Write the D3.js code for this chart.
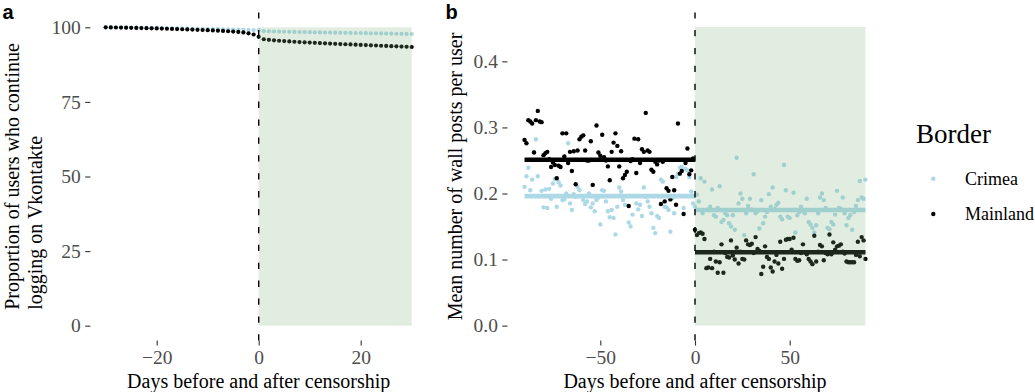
<!DOCTYPE html>
<html>
<head>
<meta charset="utf-8">
<script src="https://cdn.jsdelivr.net/npm/d3@7"></script>
<style>
  body { margin: 0; background: #fff; }
  text { font-family: "Liberation Serif", "Times New Roman", serif; }
</style>
</head>
<body>
<svg id="chart" width="1035" height="392"></svg>
<script>
// panel a: share of users still logging in, days -30..30
const daysA = d3.range(-30, 31);
const retainCrimea = [
    100.00, 99.98, 99.96, 99.94, 99.92, 99.90, 99.87, 99.85, 99.82, 99.80,
    99.77, 99.74, 99.71, 99.68, 99.65, 99.62, 99.59, 99.56, 99.52, 99.49,
    99.46, 99.42, 99.39, 99.35, 99.31, 99.27, 99.23, 99.19, 99.14, 99.09,
    99.00,
    98.70, 98.65, 98.60, 98.56, 98.52, 98.48, 98.45, 98.42, 98.39, 98.36,
    98.33, 98.30, 98.27, 98.24, 98.21, 98.18, 98.15, 98.12, 98.09, 98.06,
    98.03, 98.00, 97.97, 97.94, 97.91, 97.88, 97.85, 97.82, 97.79, 97.76
];
const retainMainland = [
    100.00, 99.97, 99.94, 99.90, 99.87, 99.83, 99.79, 99.75, 99.71, 99.67,
    99.62, 99.57, 99.52, 99.47, 99.42, 99.36, 99.30, 99.24, 99.17, 99.10,
    99.03, 98.95, 98.87, 98.78, 98.68, 98.57, 98.44, 98.28, 98.00, 97.60,
    96.80,
    96.00, 95.80, 95.65, 95.50, 95.38, 95.27, 95.17, 95.07, 94.98, 94.89,
    94.80, 94.72, 94.64, 94.56, 94.48, 94.40, 94.32, 94.25, 94.18, 94.11,
    94.04, 93.97, 93.90, 93.83, 93.76, 93.69, 93.62, 93.55, 93.48, 93.41
];

// panel b: mean wall posts per user, days -90..90
const daysB = d3.range(-90, 91);
const postsCrimea = [
    0.210, 0.226, 0.239, 0.205, 0.221, 0.263, 0.282, 0.226, 0.251, 0.204,
    0.179, 0.206, 0.178, 0.207, 0.192, 0.215, 0.222, 0.180, 0.217, 0.212,
    0.190, 0.191, 0.200, 0.276, 0.185, 0.175, 0.199, 0.195, 0.210, 0.205,
    0.196, 0.190, 0.184, 0.188, 0.200, 0.179, 0.185, 0.173, 0.190, 0.194,
    0.153, 0.205, 0.204, 0.188, 0.173, 0.164, 0.175, 0.163, 0.138, 0.180,
    0.209, 0.203, 0.190, 0.183, 0.196, 0.156, 0.150, 0.168, 0.196, 0.185,
    0.176, 0.183, 0.166, 0.209, 0.195, 0.188, 0.180, 0.170, 0.148, 0.140,
    0.166, 0.163, 0.221, 0.218, 0.180, 0.179, 0.175, 0.142, 0.193, 0.170,
    0.225, 0.230, 0.239, 0.240, 0.178, 0.237, 0.235, 0.225, 0.203, 0.185,
    // from day 0
    0.180, 0.198, 0.188, 0.223, 0.170, 0.218, 0.175, 0.176, 0.180, 0.206,
    0.167, 0.165, 0.178, 0.211, 0.157, 0.160, 0.170, 0.167, 0.155, 0.150,
    0.167, 0.145, 0.254, 0.185, 0.200, 0.192, 0.137, 0.170, 0.181, 0.192,
    0.176, 0.229, 0.170, 0.173, 0.147, 0.190, 0.155, 0.165, 0.172, 0.199,
    0.180, 0.209, 0.177, 0.183, 0.186, 0.165, 0.161, 0.243, 0.205, 0.165,
    0.163, 0.175, 0.201, 0.141, 0.167, 0.172, 0.180, 0.173, 0.170, 0.192,
    0.157, 0.153, 0.148, 0.141, 0.152, 0.170, 0.194, 0.200, 0.190, 0.178,
    0.148, 0.146, 0.157, 0.153, 0.168, 0.204, 0.178, 0.177, 0.194, 0.170,
    0.152, 0.163, 0.167, 0.145, 0.172, 0.181, 0.190, 0.219, 0.194, 0.192,
    0.221
];
const postsMainland = [
    0.281, 0.276, 0.311, 0.309, 0.306, 0.262, 0.311, 0.325, 0.309, 0.308,
    0.258, 0.261, 0.263, 0.252, 0.240, 0.247, 0.243, 0.223, 0.242, 0.240,
    0.291, 0.256, 0.291, 0.246, 0.263, 0.234, 0.264, 0.214, 0.265, 0.282,
    0.286, 0.288, 0.265, 0.250, 0.250, 0.279, 0.213, 0.196, 0.303, 0.262,
    0.257, 0.289, 0.255, 0.250, 0.241, 0.220, 0.263, 0.277, 0.291, 0.272,
    0.241, 0.264, 0.223, 0.228, 0.233, 0.181, 0.249, 0.252, 0.283, 0.231,
    0.282, 0.246, 0.267, 0.263, 0.322, 0.265, 0.263, 0.236, 0.233, 0.248,
    0.244, 0.250, 0.184, 0.248, 0.188, 0.208, 0.204, 0.191, 0.225, 0.205,
    0.183, 0.306, 0.230, 0.234, 0.169, 0.246, 0.268, 0.229, 0.235, 0.253,
    // from day 0
    0.145, 0.137, 0.140, 0.141, 0.139, 0.131, 0.087, 0.088, 0.101, 0.087,
    0.112, 0.097, 0.080, 0.096, 0.123, 0.080, 0.110, 0.104, 0.103, 0.129,
    0.106, 0.100, 0.118, 0.094, 0.112, 0.101, 0.100, 0.129, 0.123, 0.122,
    0.124, 0.110, 0.134, 0.116, 0.113, 0.078, 0.089, 0.120, 0.104, 0.101,
    0.088, 0.082, 0.097, 0.107, 0.094, 0.127, 0.086, 0.101, 0.130, 0.131,
    0.131, 0.115, 0.133, 0.101, 0.098, 0.099, 0.110, 0.123, 0.111, 0.108,
    0.101, 0.097, 0.093, 0.136, 0.097, 0.112, 0.122, 0.120, 0.099, 0.110,
    0.108, 0.138, 0.108, 0.126, 0.115, 0.120, 0.121, 0.123, 0.112, 0.109,
    0.097, 0.096, 0.096, 0.096, 0.096, 0.107, 0.127, 0.105, 0.134, 0.129,
    0.101
];
// period means (before / after censorship)
const meanCrimea = [0.196, 0.175];
const meanMainland = [0.251, 0.111];

const ticksAX = [-20, 0, 20];
const ticksAY = [0, 25, 50, 75, 100];
const ticksBX = [-50, 0, 50];
const ticksBY = [0, 0.1, 0.2, 0.3, 0.4];

const borders = ["Crimea", "Mainland"];
const colours = {Crimea: "#add8e6", Mainland: "#000000"};

const svg = d3.select("#chart");
const panelTop = 12.4, panelBottom = 340.6;

const drawPanel = (p) => {
    const x = d3.scaleLinear().domain(p.xDomain).range([p.left, p.right]);
    const y = d3.scaleLinear().domain(p.yDomain).range([panelBottom, panelTop]);
    const g = svg.append("g");

    // points, Crimea under Mainland
    p.series.forEach(s => {
        g.append("g").selectAll("circle")
            .data(s.values)
            .enter()
            .append("circle")
            .attr("cx", (d, i) => x(p.days[i]))
            .attr("cy", d => y(d))
            .attr("r", p.r)
            .attr("fill", colours[s.name]);
    });

    // before / after means
    if (p.means) {
        p.means.forEach(m => {
            [[p.days[0], 0], [0, p.days[p.days.length - 1]]].forEach((span, k) => {
                g.append("line")
                    .attr("x1", x(span[0])).attr("x2", x(span[1]))
                    .attr("y1", y(m.values[k])).attr("y2", y(m.values[k]))
                    .attr("stroke", colours[m.name])
                    .attr("stroke-width", 4.6);
            });
        });
    }

    // censorship period shading
    g.append("rect")
        .attr("x", x(0))
        .attr("width", x(p.days[p.days.length - 1]) - x(0))
        .attr("y", y(p.rectTop))
        .attr("height", y(0) - y(p.rectTop))
        .attr("fill", "rgb(123,176,123)")
        .attr("fill-opacity", 0.227);

    g.append("line")
        .attr("x1", x(0)).attr("x2", x(0))
        .attr("y1", panelBottom).attr("y2", panelTop)
        .attr("stroke", "#000")
        .attr("stroke-width", 1.4)
        .attr("stroke-dasharray", "6.3,11.6");

    // axes
    const xAxis = d3.axisBottom(x).tickValues(p.xTicks).tickSize(5).tickPadding(5)
        .tickFormat(d3.format("d"));
    const yAxis = d3.axisLeft(y).tickValues(p.yTicks).tickSize(5.2).tickPadding(4.4)
        .tickFormat(p.yFormat);

    [[xAxis, `translate(0,${panelBottom})`], [yAxis, `translate(${p.left},0)`]].forEach(([ax, tr]) => {
        const a = g.append("g").attr("transform", tr).call(ax)
            .attr("font-family", null)
            .attr("font-size", null);
        a.select(".domain").remove();
        a.selectAll(".tick line").attr("stroke", "#333333").attr("stroke-width", 1.1);
        a.selectAll(".tick text")
            .attr("fill", "#4d4d4d")
            .attr("font-family", '"Liberation Serif", serif')
            .attr("font-size", 19.5);
    });

    g.append("text")
        .attr("x", (p.left + p.right) / 2)
        .attr("y", 388)
        .attr("text-anchor", "middle")
        .attr("font-size", 20)
        .text("Days before and after censorship");

    const mid = (panelTop + panelBottom) / 2;
    if (p.yTitle.length === 1) {
        g.append("text")
            .attr("transform", `translate(${p.titleX[0]},${mid}) rotate(-90)`)
            .attr("text-anchor", "middle")
            .attr("font-size", 20)
            .text(p.yTitle[0]);
    } else {
        const first = g.append("text")
            .attr("font-size", 20)
            .text(p.yTitle[0]);
        const w = first.node().getComputedTextLength();
        first.attr("transform", `translate(${p.titleX[0]},${mid + w / 2}) rotate(-90)`);
        g.append("text")
            .attr("transform", `translate(${p.titleX[1]},${mid + w / 2}) rotate(-90)`)
            .attr("font-size", 20)
            .text(p.yTitle[1]);
    }

    g.append("text")
        .attr("x", p.labelX)
        .attr("y", 18.5)
        .style("font-family", '"Liberation Sans", Arial, sans-serif')
        .style("font-weight", "bold")
        .style("font-size", "20px")
        .text(p.label);
};

drawPanel({
    label: "a", labelX: 2.5,
    days: daysA,
    xDomain: [-33, 33], left: 90.4, right: 427,
    yDomain: [-5, 105], rectTop: 100,
    xTicks: ticksAX, yTicks: ticksAY, yFormat: d3.format("d"),
    r: 2.1,
    series: [{name: "Crimea", values: retainCrimea}, {name: "Mainland", values: retainMainland}],
    yTitle: ["Proportion of users who continue", "logging on Vkontakte"],
    titleX: [18.5, 41.5]
});

drawPanel({
    label: "b", labelX: 445.5,
    days: daysB,
    xDomain: [-99, 99], left: 507.5, right: 882.5,
    yDomain: [-0.0227, 0.4741], rectTop: 0.452,
    xTicks: ticksBX, yTicks: ticksBY, yFormat: d3.format(".1f"),
    r: 2.2,
    series: [{name: "Crimea", values: postsCrimea}, {name: "Mainland", values: postsMainland}],
    means: [{name: "Crimea", values: meanCrimea}, {name: "Mainland", values: meanMainland}],
    yTitle: ["Mean number of wall posts per user"],
    titleX: [462]
});

// legend
const legend = svg.append("g");
legend.append("text")
    .attr("x", 916).attr("y", 143)
    .attr("font-size", 27)
    .text("Border");
borders.forEach((b, i) => {
    const ky = 178.7 + i * 35.3;
    legend.append("circle")
        .attr("cx", 933.3).attr("cy", ky).attr("r", 2.2)
        .attr("fill", colours[b]);
    legend.append("text")
        .attr("x", 965).attr("y", ky).attr("dy", "0.35em")
        .attr("font-size", 18)
        .text(b);
});
</script>
</body>
</html>
